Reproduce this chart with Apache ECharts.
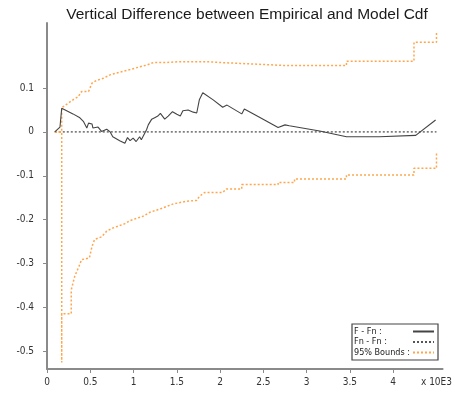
<!DOCTYPE html>
<html>
<head>
<meta charset="utf-8">
<script src="https://cdn.jsdelivr.net/npm/echarts@6/dist/echarts.min.js"></script>
<style>html,body{margin:0;padding:0;background:#fff}#c{width:455px;height:396px}</style>
</head>
<body>
<div id="c"></div>
<script>
var titleText = 'Vertical Difference between Empirical and Model Cdf';
var xTickValues = [0, 0.5, 1, 1.5, 2, 2.5, 3, 3.5, 4];
var xLabelValues = [0, 0.5, 1, 1.5, 2, 2.5, 3, 3.5, 4, 4.5];
var xLabelTexts = ['0', '0.5', '1', '1.5', '2', '2.5', '3', '3.5', '4', 'x 10E3'];
var yTickValues = [-0.5, -0.4, -0.3, -0.2, -0.1, 0, 0.1];
var yTickTexts = ['-0.5', '-0.4', '-0.3', '-0.2', '-0.1', '0', '0.1'];

// F - Fn (x in thousands)
var diffX = [0.09,0.15,0.17,0.21,0.30,0.38,0.42,0.46,0.48,0.52,0.53,0.59,0.63,0.69,0.73,0.76,0.84,0.90,0.93,0.96,0.995,1.03,1.07,1.09,1.11,1.15,1.17,1.21,1.25,1.28,1.31,1.36,1.40,1.45,1.50,1.54,1.57,1.63,1.69,1.73,1.76,1.78,1.80,1.82,1.92,2.03,2.08,2.25,2.28,2.46,2.67,2.75,2.80,3.15,3.46,3.84,4.26,4.49];
var diffY = [0,0.011,0.054,0.050,0.041,0.032,0.024,0.009,0.020,0.018,0.009,0.011,0.001,0.006,0,-0.011,-0.020,-0.026,-0.013,-0.020,-0.014,-0.022,-0.011,-0.018,-0.018,0.005,0.016,0.029,0.033,0.036,0.042,0.029,0.036,0.046,0.040,0.036,0.048,0.050,0.045,0.043,0.073,0.076,0.089,0.086,0.073,0.056,0.061,0.041,0.052,0.033,0.010,0.016,0.014,0.002,-0.011,-0.011,-0.008,0.027];

// Fn - Fn
var zeroX = [0.09, 4.50];
var zeroY = [0, 0];

// 95% bounds
var upX = [0.09,0.17,0.17,0.30,0.36,0.40,0.48,0.52,0.57,0.65,0.73,0.84,0.96,1.07,1.15,1.23,1.38,1.53,1.84,2.00,2.23,2.77,3.46,3.46,4.24,4.24,4.50,4.50];
var upY = [0,0,0.055,0.073,0.080,0.092,0.092,0.111,0.117,0.122,0.130,0.136,0.142,0.148,0.152,0.158,0.158,0.160,0.160,0.158,0.156,0.151,0.151,0.161,0.161,0.204,0.204,0.230];
var loX = [0.09,0.17,0.17,0.17,0.28,0.28,0.32,0.37,0.40,0.49,0.52,0.55,0.63,0.69,0.76,0.90,0.96,1.11,1.19,1.30,1.46,1.61,1.73,1.76,1.82,2.03,2.07,2.25,2.25,2.67,2.67,2.86,2.86,3.46,3.46,4.24,4.24,4.50,4.50];
var loY = [0,0,-0.525,-0.414,-0.414,-0.360,-0.329,-0.306,-0.291,-0.287,-0.261,-0.245,-0.239,-0.226,-0.219,-0.209,-0.202,-0.192,-0.183,-0.176,-0.164,-0.158,-0.156,-0.147,-0.138,-0.138,-0.130,-0.130,-0.120,-0.120,-0.115,-0.115,-0.107,-0.107,-0.098,-0.098,-0.083,-0.083,-0.048];

function pairs(xs, ys) { return xs.map(function (x, i) { return [x, ys[i]]; }); }

var FONT = '"Liberation Sans Narrow", "DejaVu Sans Condensed", Arial, sans-serif';
var TFONT = '"Liberation Sans", Arial, sans-serif';
var orange = '#ffa64d';
var chart = echarts.init(document.getElementById('c'), null, { renderer: 'canvas' });
chart.setOption({
  animation: false,
  backgroundColor: '#fff',
  title: {
    text: titleText, left: 242, top: 2, textAlign: 'center',
    textStyle: { fontFamily: TFONT, fontSize: 15.5, fontWeight: 'normal', color: '#1a1a1a' }
  },
  grid: { left: 47, right: 12, top: 23, bottom: 27, containLabel: false },
  legend: {
    orient: 'vertical', right: 17, bottom: 36,
    align: 'right',
    borderColor: '#444', borderWidth: 1.2, padding: [3, 3, 3, 2],
    itemGap: 1.5, itemWidth: 21, itemHeight: 9,
    itemStyle: { opacity: 0 },
    formatter: function (n) { return '{a|' + n + '}'; },
    textStyle: { fontFamily: FONT, fontSize: 9, color: '#222',
      rich: { a: { fontFamily: FONT, fontSize: 9, color: '#222', width: 54, align: 'left' } } },
    data: ['F - Fn :', 'Fn - Fn :', '95% Bounds :']
  },
  xAxis: {
    type: 'value', min: 0, max: 4.57,
    splitLine: { show: false },
    axisLine: { onZero: false, lineStyle: { color: '#8a8a8a', width: 2 } },
    axisTick: { customValues: xTickValues, length: 4, lineStyle: { color: '#8a8a8a' } },
    axisLabel: {
      customValues: xLabelValues, margin: 8, color: '#333', fontFamily: FONT, fontSize: 10,
      formatter: function (v) { var i = xLabelValues.indexOf(v); return i >= 0 ? xLabelTexts[i] : ''; }
    }
  },
  yAxis: {
    type: 'value', min: -0.54, max: 0.248,
    splitLine: { show: false },
    axisLine: { onZero: false, lineStyle: { color: '#8a8a8a', width: 2 } },
    axisTick: { customValues: yTickValues, length: 4, lineStyle: { color: '#8a8a8a' } },
    axisLabel: {
      customValues: yTickValues, margin: 13, color: '#333', fontFamily: FONT, fontSize: 10,
      formatter: function (v) { var i = yTickValues.indexOf(v); return i >= 0 ? yTickTexts[i] : ''; }
    }
  },
  series: [
    { name: 'Fn - Fn :', type: 'line', data: pairs(zeroX, zeroY), symbol: 'none', z: 1,
      lineStyle: { color: '#555', width: 1.3, type: [2, 2] }, itemStyle: { color: '#555' } },
    { name: '95% Bounds :', type: 'line', data: pairs(upX, upY), symbol: 'none', z: 2,
      lineStyle: { color: orange, width: 1.5, type: [2, 2] }, itemStyle: { color: orange } },
    { name: '95% Bounds :', type: 'line', data: pairs(loX, loY), symbol: 'none', z: 2,
      lineStyle: { color: orange, width: 1.5, type: [2, 2] }, itemStyle: { color: orange } },
    { name: 'F - Fn :', type: 'line', data: pairs(diffX, diffY), symbol: 'none', z: 3,
      lineStyle: { color: '#444', width: 1.1 }, itemStyle: { color: '#444' } }
  ]
});
</script>
</body>
</html>
